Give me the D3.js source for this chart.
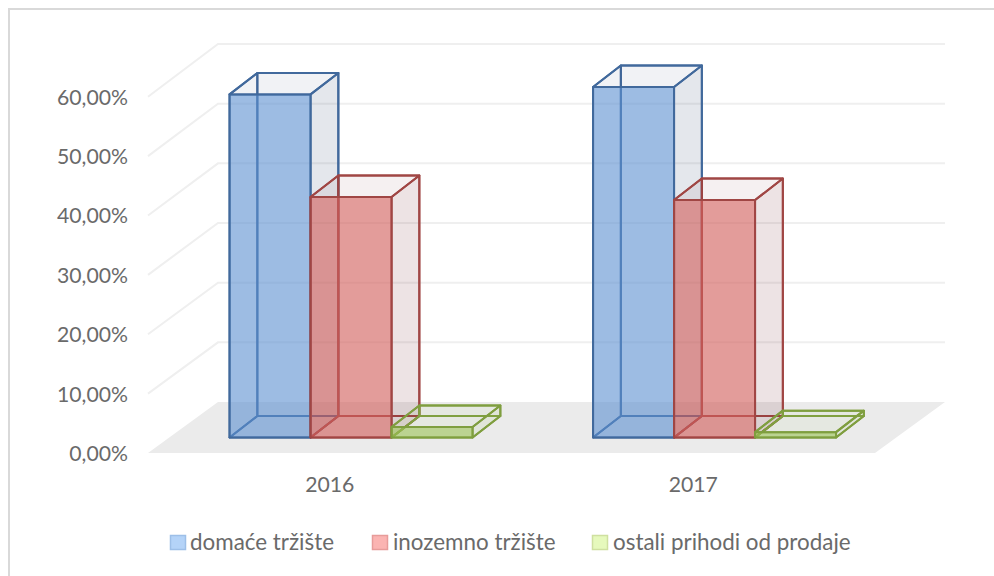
<!DOCTYPE html>
<html><head><meta charset="utf-8">
<script src="https://cdn.jsdelivr.net/npm/d3@7/dist/d3.min.js"></script>
<style>html,body{margin:0;background:#fff}svg{display:block}text{font-family:Lato,"Noto Sans",sans-serif;fill:#6a6a6a}</style>
</head><body><svg id="c" width="994" height="576"></svg>
<script>
const years = ["2016","2017"];
const seriesNames = ["domaće tržište","inozemno tržište","ostali prihodi od prodaje"];
const domace = [57.5,58.75];
const inozemno = [40.3,39.8];
const ostali = [1.75,0.9];
const seriesValues = [domace,inozemno,ostali];
const yTicks = [0,10,20,30,40,50,60];
const strokes = ["#41699c","#a04644","#7f9e3f"];
const fronts = ["#5b8fd0","#d2605c","#9bc355"];
const sideColors = ["rgb(40,60,100)","rgb(112,34,41)","rgb(150,190,95)"];
const frontOpacity = [0.6,0.62,0.6];
const legendFills = ["#b4d3f8","#fbb4b2","#e6f9bc"];
const legendStrokes = ["#9dbfe8","#e79c9a","#cfe0a0"];

const svg = d3.select("#c");
svg.append("path").attr("d",d3.line()([[9,576],[9,9],[994,9]])).attr("fill","none").attr("stroke","#d9d9d9").attr("stroke-width",2);

const x0 = d3.scaleBand().domain(years).range([148,875]);
const x1 = d3.scaleBand().domain(seriesNames).range([61.5,304.5]);
const yFront = d3.scaleLinear().domain([0,60]).range([453,96.7]);
const yBack = d3.scaleLinear().domain([0,60]).range([402,44]);
const barY = d3.scaleLinear().domain([0,60]).range([0,-358]);
const floorDepthX = 70;
const barDepthX = d3.scaleLinear().domain([0,1]).range([0,66]);
const barDepthY = d3.scaleLinear().domain([0,1]).range([453,402]);
const P = (px,v,z)=>[px+barDepthX(z), barDepthY(z)+barY(v)];
const line = d3.line();
const poly = pts => line(pts)+"Z";
const floorX = x0.range();

const grid = svg.append("g");
yTicks.slice(1).forEach(t=>{
  grid.append("path").attr("d",line([[floorX[0],yFront(t)],[floorX[0]+floorDepthX,yBack(t)],[floorX[1]+floorDepthX,yBack(t)]]))
   .attr("fill","none").attr("stroke","#efefef").attr("stroke-width",2);
});
svg.append("path").attr("d",poly([[floorX[0],yFront(0)],[floorX[0]+floorDepthX,yBack(0)],[floorX[1]+floorDepthX,yBack(0)],[floorX[1],yFront(0)]])).attr("fill","#ebebeb");

yTicks.forEach(t=>{
  svg.append("text").attr("x",128).attr("y",yFront(t)+8).attr("text-anchor","end").attr("font-size",21.2)
    .text(d3.format(".2f")(t).replace(".",",")+"%");
});

const zF=0.304, zB=0.725;
years.forEach((yr,yi)=>{
  seriesNames.forEach((s,si)=>{
    const v = seriesValues[si][yi];
    const l = x0(yr)+x1(s), r = l+x1.bandwidth();
    const g = svg.append("g").attr("stroke",strokes[si]).attr("stroke-width",2).attr("stroke-linejoin","round");
    const face=(pts,fill,op)=>g.append("path").attr("d",poly(pts)).attr("fill",fill).attr("fill-opacity",op);
    face([P(l,0,zB),P(r,0,zB),P(r,v,zB),P(l,v,zB)],"none",0);
    face([P(l,0,zF),P(r,0,zF),P(r,0,zB),P(l,0,zB)],"none",0);
    face([P(l,0,zF),P(l,v,zF),P(l,v,zB),P(l,0,zB)],"none",0);
    face([P(r,0,zF),P(r,0,zB),P(r,v,zB),P(r,v,zF)],sideColors[si],0.125);
    face([P(l,v,zF),P(r,v,zF),P(r,v,zB),P(l,v,zB)],sideColors[si],0.065);
    face([P(l,0,zF),P(r,0,zF),P(r,v,zF),P(l,v,zF)],fronts[si],frontOpacity[si]);
  });
});

years.forEach(yr=>{
  svg.append("text").attr("x",x0(yr)+x0.bandwidth()/2).attr("y",491.5).attr("text-anchor","middle").attr("font-size",21.2).text(yr);
});

const legX=[170,372,592], legT=[190,393,613];
seriesNames.forEach((s,i)=>{
  svg.append("rect").attr("x",legX[i]+.5).attr("y",535.5).attr("width",15).attr("height",14).attr("fill",legendFills[i]).attr("stroke",legendStrokes[i]).attr("stroke-width",1.5);
  svg.append("text").attr("x",legT[i]).attr("y",549.5).attr("font-size",22.4).text(s);
});
</script></body></html>
